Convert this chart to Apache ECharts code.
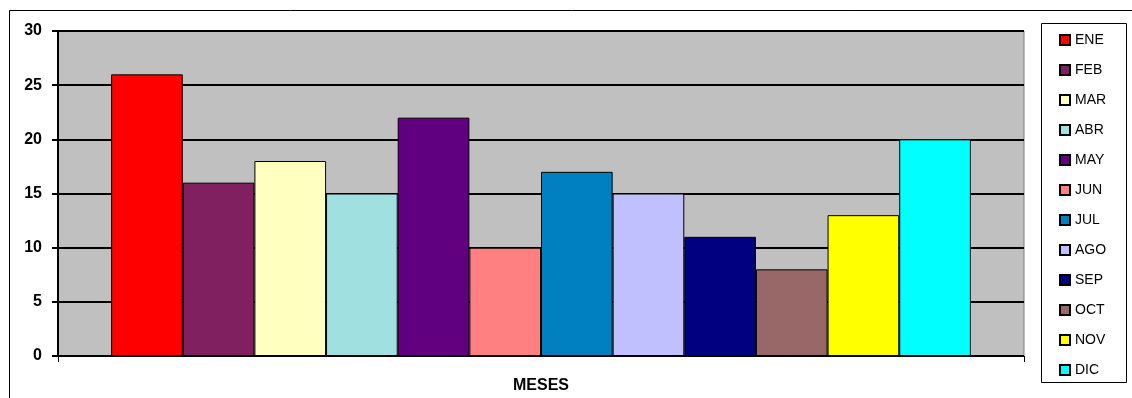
<!DOCTYPE html>
<html><head><meta charset="utf-8">
<script src="https://cdn.jsdelivr.net/npm/echarts@6/dist/echarts.min.js"></script>
<style>html,body{margin:0;padding:0;background:#fff}#c{width:1132px;height:398px}</style>
</head><body><div id="c"></div>
<script>
const months = ['ENE','FEB','MAR','ABR','MAY','JUN','JUL','AGO','SEP','OCT','NOV','DIC'];
const values = [26,16,18,15,22,10,17,15,11,8,13,20];
const colors = ['#FF0000','#802060','#FFFFC0','#A0E0E0','#600080','#FF8080','#0080C0','#C0C0FF','#000080','#986868','#FFFF00','#00FFFF'];
const yTicks = [0,5,10,15,20,25,30];
const xTitle = 'MESES';

const chart = echarts.init(document.getElementById('c'));
const font = '"Liberation Sans", Arial, sans-serif';
chart.setOption({
  animation: false,
  color: colors,
  grid: {left: 58, right: 108, top: 31, bottom: 42, show: true, backgroundColor: '#C0C0C0', borderColor: '#808080', borderWidth: 1, outerBoundsMode: 'none', containLabel: false},
  graphic: [
    {type: 'rect', shape: {x: 9.5, y: 10.5, width: 1140, height: 400}, style: {fill: 'none', stroke: '#000', lineWidth: 1}, z: -1},
    {type: 'rect', shape: {x: 1041.5, y: 23.5, width: 85, height: 359}, style: {fill: '#fff', stroke: '#000', lineWidth: 1}, z: 0}
  ],
  legend: {
    orient: 'vertical', left: 1041, top: 24, padding: [9, 8, 9, 18],
    icon: 'rect',
    itemWidth: 10, itemHeight: 10, itemGap: 16, itemTextGap: 9, z: 5,
    textStyle: {fontFamily: font, fontSize: 14, color: '#000', lineHeight: 13},
    data: months
  },
  xAxis: {
    type: 'category', data: [''],
    name: xTitle, nameLocation: 'middle', nameGap: 22,
    nameTextStyle: {fontFamily: font, fontSize: 16, fontWeight: 'bold', color: '#000'},
    axisLine: {lineStyle: {color: '#000', width: 1}},
    axisTick: {show: true, length: 6, lineStyle: {color: '#000'}},
    axisLabel: {show: false}
  },
  yAxis: {
    type: 'value', min: yTicks[0], max: yTicks[yTicks.length - 1], interval: 5,
    axisLine: {show: true, lineStyle: {color: '#000', width: 2}},
    axisTick: {show: true, length: 6, lineStyle: {color: '#000', width: 2}},
    axisLabel: {fontFamily: font, fontSize: 16, fontWeight: 'bold', color: '#000', margin: 16},
    splitLine: {show: true, lineStyle: {color: '#000', width: 2}}
  },
  series: months.map((m, i) => ({
    name: m, type: 'bar', data: [values[i]],
    barGap: '0%', barCategoryGap: '11%',
    itemStyle: {color: colors[i], borderColor: '#000', borderWidth: 1}
  }))
});
</script></body></html>
